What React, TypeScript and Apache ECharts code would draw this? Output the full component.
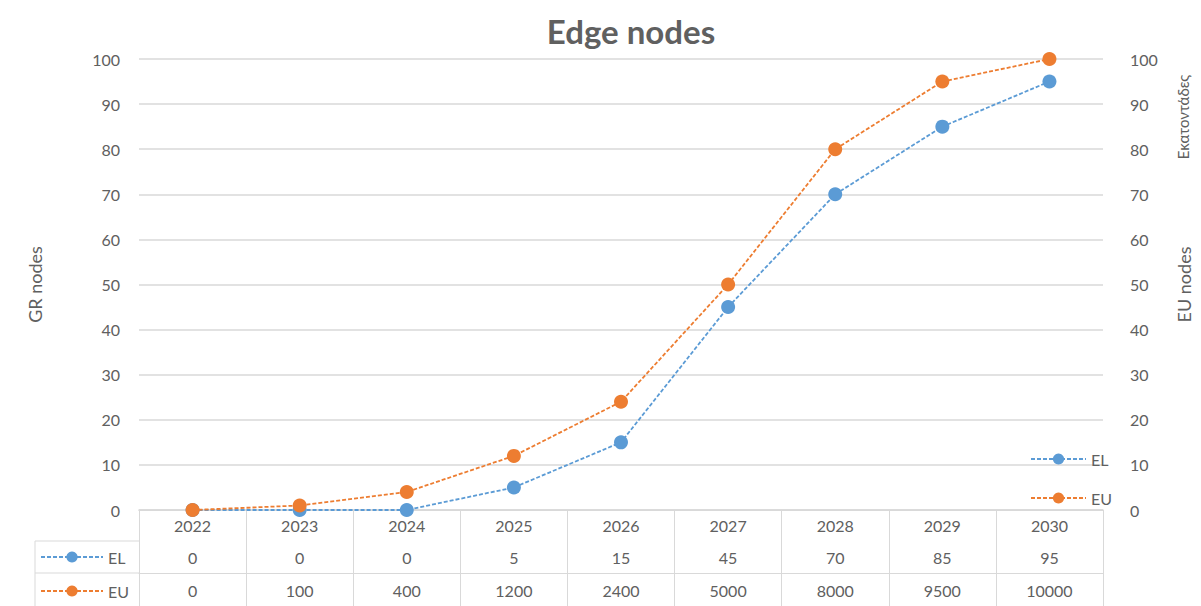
import React, { useEffect, useRef } from "react";
import * as echarts from "echarts";

const years = ["2022", "2023", "2024", "2025", "2026", "2027", "2028", "2029", "2030"];
const elValues = [0, 0, 0, 5, 15, 45, 70, 85, 95];
const euValues = [0, 100, 400, 1200, 2400, 5000, 8000, 9500, 10000];
const euUnit = 100; // right axis shown in hundreds ("Εκατοντάδες")

const FONT = "Lato, 'Open Sans', sans-serif";
const TXT = "#606060";
const GRID = "#d9d9d9";
const BLUE = "#5b9bd5";
const ORANGE = "#ed7d31";

export default function App() {
  const ref = useRef<HTMLDivElement>(null);
  useEffect(() => {
    if (!ref.current) return;
    const chart = echarts.init(ref.current, undefined, { renderer: "svg" });
    const legendBase = {
      orient: "vertical" as const,
      itemWidth: 55,
      itemHeight: 14,
      padding: 0,
      height: 80,
      textStyle: { color: TXT, fontSize: 16, fontFamily: FONT },
      data: ["EL", "EU"],
      selectedMode: false,
    };
    chart.setOption({
      animation: false,
      backgroundColor: "#ffffff",
      textStyle: { fontFamily: FONT },
      title: {
        text: "Edge nodes",
        left: 626,
        textAlign: "center",
        top: 9,
        textStyle: { color: TXT, fontSize: 33, fontWeight: "bold", fontFamily: FONT },
      },
      grid: { left: 139, right: 90, top: 59, bottom: 96 },
      legend: [
        { ...legendBase, left: 1030, top: 451, itemGap: 23 },
        { ...legendBase, left: 40, top: 549, itemWidth: 62, itemGap: 18 },
      ],
      xAxis: [
        {
          type: "category",
          data: years,
          position: "bottom",
          boundaryGap: true,
          axisLine: { show: true, lineStyle: { color: GRID, width: 1.5 } },
          axisTick: { show: true, length: 96, interval: 0, lineStyle: { color: GRID } },
          axisLabel: { color: TXT, fontSize: 16, fontFamily: FONT, margin: 7, interval: 0 },
        },
        {
          type: "category",
          data: elValues.map(String),
          position: "bottom",
          offset: 31,
          boundaryGap: true,
          axisLine: { show: true, lineStyle: { color: GRID } },
          axisTick: { show: false },
          axisLabel: { color: TXT, fontSize: 16, fontFamily: FONT, margin: 8, interval: 0 },
        },
        {
          type: "category",
          data: euValues.map(String),
          position: "bottom",
          offset: 63,
          boundaryGap: true,
          axisLine: { show: true, lineStyle: { color: GRID } },
          axisTick: { show: false },
          axisLabel: { color: TXT, fontSize: 16, fontFamily: FONT, margin: 9, interval: 0 },
        },
      ],
      yAxis: [
        {
          type: "value",
          min: 0,
          max: 100,
          interval: 10,
          position: "left",
          name: "GR nodes",
          nameLocation: "middle",
          nameRotate: 90,
          nameGap: 95,
          nameTextStyle: { color: TXT, fontSize: 18, fontFamily: FONT },
          axisLine: { show: false },
          axisTick: { show: false },
          axisLabel: { color: TXT, fontSize: 16, fontFamily: FONT, margin: 19 },
          splitLine: { lineStyle: { color: GRID, width: 1.5 } },
        },
        {
          type: "value",
          min: 0,
          max: 100,
          interval: 10,
          position: "right",
          name: "EU nodes",
          nameLocation: "middle",
          nameRotate: 90,
          nameGap: 72,
          nameTextStyle: { color: TXT, fontSize: 18, fontFamily: FONT },
          axisLine: { show: false },
          axisTick: { show: false },
          axisLabel: { color: TXT, fontSize: 16, fontFamily: FONT, margin: 27 },
          splitLine: { show: false },
        },
      ],
      graphic: [
        {
          type: "text",
          x: 1183,
          y: 117,
          rotation: Math.PI / 2,
          style: {
            text: "Εκατοντάδες",
            fill: TXT,
            font: `15px ${FONT}`,
            align: "center",
            verticalAlign: "middle",
          },
        },
        { type: "line", shape: { x1: 35, y1: 541, x2: 139, y2: 541 }, style: { stroke: GRID, lineWidth: 1 } },
        { type: "line", shape: { x1: 35, y1: 573, x2: 139, y2: 573 }, style: { stroke: GRID, lineWidth: 1 } },
        { type: "line", shape: { x1: 35, y1: 541, x2: 35, y2: 606 }, style: { stroke: GRID, lineWidth: 1 } },
      ],
      series: [
        {
          name: "EL",
          type: "line",
          data: elValues,
          xAxisIndex: 0,
          yAxisIndex: 0,
          symbol: "circle",
          symbolSize: 14,
          color: BLUE,
          itemStyle: { color: BLUE },
          lineStyle: { color: BLUE, width: 1.8, type: [4, 2] },
          z: 3,
        },
        {
          name: "EU",
          type: "line",
          data: euValues.map((v) => v / euUnit),
          xAxisIndex: 0,
          yAxisIndex: 1,
          symbol: "circle",
          symbolSize: 14,
          color: ORANGE,
          itemStyle: { color: ORANGE },
          lineStyle: { color: ORANGE, width: 1.8, type: [4, 2] },
          z: 4,
        },
      ],
    });
    return () => chart.dispose();
  }, []);
  return (
    <div
      ref={ref}
      style={{ position: "fixed", left: 0, top: 0, width: 1201, height: 606, background: "#fff" }}
    />
  );
}
